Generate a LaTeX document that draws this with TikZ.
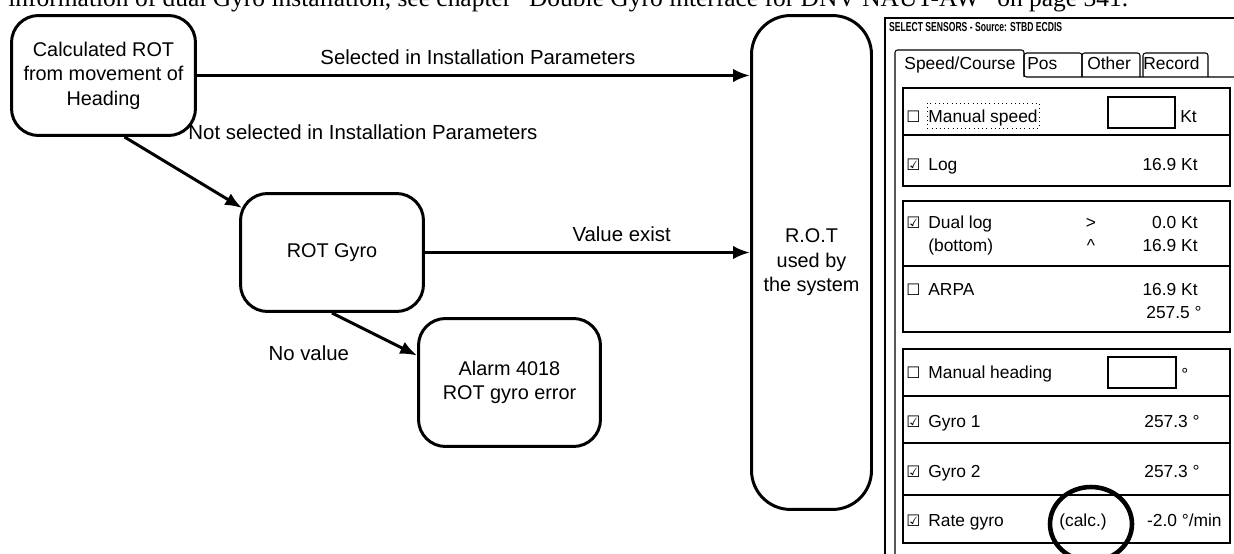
\documentclass[tikz,border=0pt]{standalone}
\usepackage{fontspec}
\setmainfont{Liberation Sans}
\newfontfamily\pagefont{Liberation Serif}
\newfontfamily\boxfont{DejaVu Sans}
\usetikzlibrary{arrows.meta, positioning, calc, shapes.geometric}

\begin{document}
\begin{tikzpicture}[x=0.02cm, y=-0.02cm,
        flowbox/.style={rectangle, rounded corners=0.54cm, draw, line width=1.7pt,
                        align=center, inner sep=0pt, font=\fontsize{11.3}{13.9}\selectfont},
        arrow/.style={-{Latex[length=9.6pt, width=7.6pt]}, line width=1.7pt},
        edgelabel/.style={font=\fontsize{11.6}{13.9}\selectfont, inner sep=0pt},
        frame/.style={draw, line width=0.6pt},
        group/.style={draw, line width=1.1pt},
        paneltext/.style={font=\fontsize{9.9}{11}\selectfont, inner sep=0pt},
        checkbox/.style={font=\boxfont\fontsize{9}{9}\selectfont, inner sep=0pt},
        ringmark/.style={ellipse, draw, line width=2.6pt, minimum width=1.64cm, minimum height=1.48cm}
    ]
        \useasboundingbox (0,0) rectangle (1234,554);
        \clip (0,0) rectangle (1234,554);

        \node[anchor=base west, inner sep=0pt, font=\pagefont\fontsize{14.5}{16}\selectfont] (pageline) at (8,7)
            {information of dual Gyro installation, see chapter “Double Gyro interface for DNV NAUT-AW” on page 341.};

        \node[flowbox, minimum width=3.68cm, minimum height=2.4cm] (calc) at (103.5,75.5) {Calculated ROT\\from movement of\\Heading};
        \node[flowbox, minimum width=3.66cm, minimum height=2.36cm] (gyro) at (332,252.5) {ROT Gyro};
        \node[flowbox, minimum width=3.64cm, minimum height=2.56cm] (alarm) at (509.5,382.5) {Alarm 4018\\ROT gyro error};
        \node[flowbox, rounded corners=0.78cm, minimum width=2.4cm, minimum height=9.88cm] (rot) at (811.5,262.5) {R.O.T\\used by\\the system};

        \draw[arrow] (calc.east) -- node[edgelabel, pos=0.508, above=0.19cm] {Selected in Installation Parameters} (calc.east -| rot.west);
        \draw[arrow] ($(calc.south)+(21,0)$) -- node[edgelabel, pos=0, anchor=west, xshift=1.25cm, yshift=0.09cm] {Not selected in Installation Parameters} ($(gyro.north west)+(3,16)$);
        \draw[arrow] (gyro.east) -- node[edgelabel, pos=0.605, above=0.19cm] {Value exist} (gyro.east -| rot.west);
        \draw[arrow] (gyro.south) -- node[edgelabel, pos=0.5, anchor=north east, xshift=-0.48cm, yshift=-0.19cm] {No value} ($(alarm.west)+(0,-27)$);

        % sensor dialog
        \draw[frame] (1234,18) -- (885,18) -- (885,554);
        \draw[frame, rounded corners=1.5pt] (895,554) -- (895,50) -- (1024,50) -- (1024,77) -- (1234,77);
        \draw[frame, rounded corners=1.5pt] (1024,77) -- (1024,53) -- (1082,53) -- (1082,77);
        \draw[frame, rounded corners=1.5pt] (1082,77) -- (1082,53) -- (1140,53) -- (1140,77);
        \draw[frame, rounded corners=1.5pt] (1143,77) -- (1143,53) -- (1208,53) -- (1208,77);
        \node[anchor=base west, inner sep=0pt, xscale=0.66, transform shape, font=\bfseries\fontsize{7.4}{8}\selectfont] (title) at (889,32) {SELECT SENSORS - Source: STBD ECDIS};
        \node[paneltext, anchor=base] (tabspeed) at (960,70) {Speed/Course};
        \node[paneltext, anchor=base west] (tabpos) at (1027,70) {Pos};
        \node[paneltext, anchor=base west] (tabother) at (1087,70) {Other};
        \node[paneltext, anchor=base west] (tabrecord) at (1143,70) {Record};

        \draw[group] (903,88) rectangle (1230,186);
        \draw[group] (903,201) rectangle (1230,332);
        \draw[group] (903,349) rectangle (1230,543);
        \foreach \yy in {135,266,396,443,495}
            \draw[group] (903,\yy) -- (1230,\yy);
        \draw[frame] (1108,97) rectangle (1175,128);
        \draw[frame] (1108,357) rectangle (1176,388);
        \draw[dotted, line width=0.4pt] (927,103) rectangle (1039,128);

        \foreach \lbl/\yy/\tick [count=\i] in {Manual speed/123/☐, Log/171/☑, Dual log/228/☑, ARPA/295/☐,
                                             Manual heading/378/☐, Gyro 1/427/☑, Gyro 2/477/☑, Rate gyro/526/☑}{
            \node[checkbox, anchor=base west] (box\i) at (906,\yy) {\tick};
            \node[paneltext, anchor=base west] (row\i) at (928,\yy) {\lbl};
        }
        \node[paneltext, anchor=base west] (bottom) at (928,251) {(bottom)};
        \node[paneltext, anchor=base] (gt) at (1091,228) {>};
        \node[paneltext, anchor=base] (caret) at (1091,251) {\^{}};

        \node[paneltext, anchor=base west] (kt) at (1180,123) {Kt};
        \node[paneltext, anchor=base east] (vlog) at (1198,171) {16.9 Kt};
        \node[paneltext, anchor=base east] (vdual) at (1198,228) {0.0 Kt};
        \node[paneltext, anchor=base east] (vbottom) at (1198,251) {16.9 Kt};
        \node[paneltext, anchor=base east] (varpa) at (1198,295) {16.9 Kt};
        \node[paneltext, anchor=base east] (vcourse) at (1202,318) {257.5 °};
        \node[paneltext, anchor=base west] (deg) at (1181,380) {°};
        \node[paneltext, anchor=base east] (vgyroa) at (1200,427) {257.3 °};
        \node[paneltext, anchor=base east] (vgyrob) at (1200,477) {257.3 °};
        \node[paneltext, anchor=base] (calcnote) at (1083,526) {(calc.)};
        \node[paneltext, anchor=base east] (vrate) at (1222,526) {-2.0 °/min};

        \node[ringmark] (ring) at (1091,524) {};
    \end{tikzpicture}
\end{document}
